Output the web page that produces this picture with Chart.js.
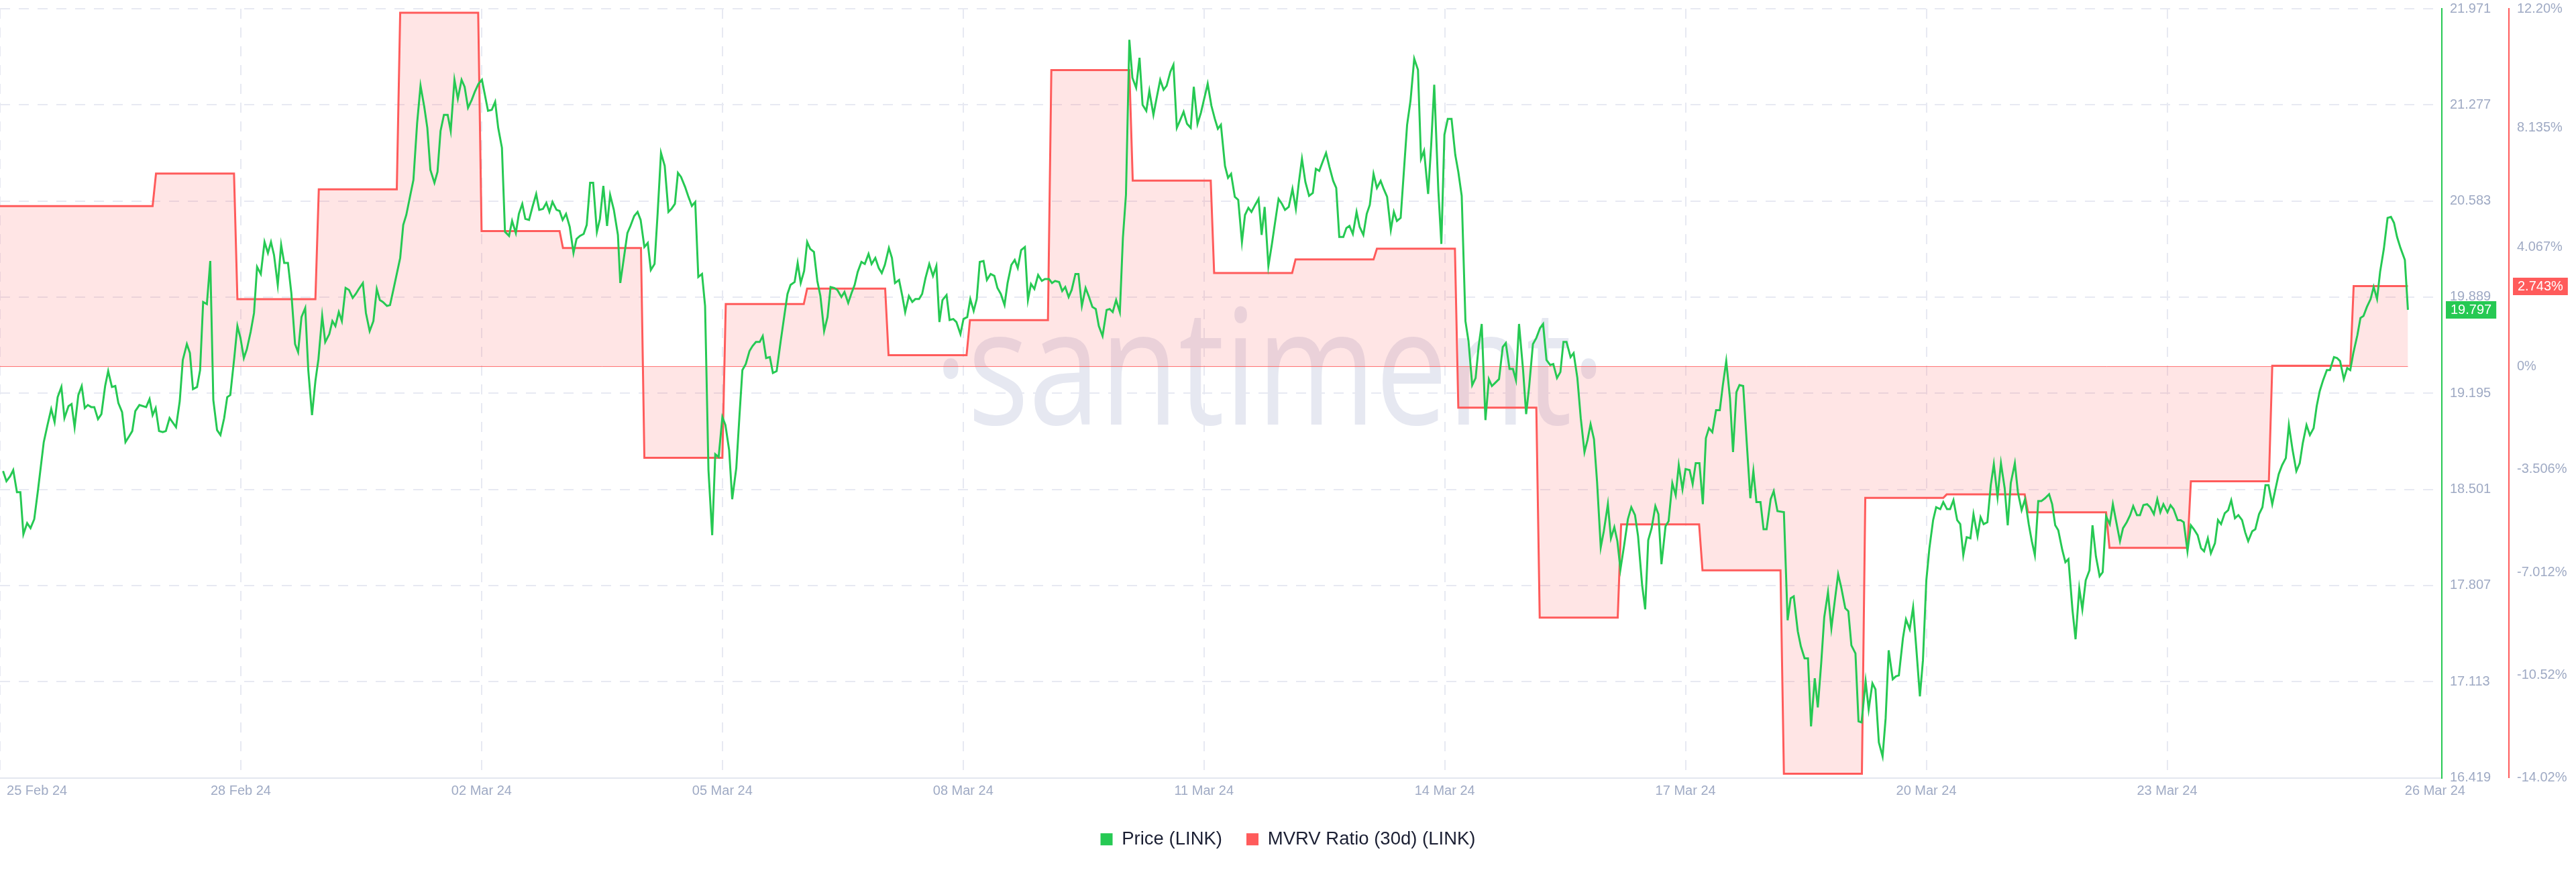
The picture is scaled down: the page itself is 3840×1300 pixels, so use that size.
<!DOCTYPE html>
<html>
<head>
<meta charset="utf-8">
<style>
  html, body { margin: 0; padding: 0; background: #ffffff; }
  #wrap { width: 3840px; height: 1300px; }
</style>
<script src="https://cdn.jsdelivr.net/npm/chart.js@4"></script>
</head>
<body>
<div id="wrap"><canvas id="c" width="3840" height="1300"></canvas></div>
<script>
// ---------------- DATA ----------------
// Hours since the chart start (25 Feb 24) of each price reading
const priceHours = [
0.9,1.9,3.0,3.9,5.0,6.0,6.9,8.0,9.0,10.1,
11.2,12.9,14.0,15.1,16.1,17.0,18.1,19.0,20.2,21.1,
22.0,23.1,24.1,25.0,25.9,26.9,27.8,28.9,29.9,31.0,31.9,
33.0,34.0,34.9,36.0,37.0,38.1,39.0,39.9,41.1,43.1,
44.1,45.0,45.9,46.9,48.0,48.9,50.0,51.9,53.0,53.9,
55.1,56.0,56.9,58.1,59.0,59.9,61.0,62.0,62.9,64.0,
65.0,66.1,67.0,67.9,69.1,70.0,70.9,71.9,72.8,73.9,
74.9,75.8,76.9,78.0,79.0,79.9,80.8,81.9,82.9,83.8,
84.9,85.9,87.0,87.9,88.9,90.0,90.9,92.0,93.0,93.9,
95.0,95.9,97.1,98.0,98.9,99.9,100.8,101.9,102.9,104.0,
104.9,105.8,107.0,107.9,109.0,110.1,111.1,112.0,112.9,114.1,115.0,
116.1,118.0,118.9,119.8,121.0,121.9,123.0,124.0,125.1,126.0,
126.9,128.1,129.0,129.9,130.9,132.0,132.9,134.0,135.0,136.1,
137.0,138.0,139.1,140.0,141.1,142.1,
143.9,145.0,146.0,146.9,148.0,148.9,150.1,151.0,152.1,153.0,
154.0,154.9,156.0,157.0,158.1,159.0,160.1,161.1,162.0,162.9,
164.1,165.0,165.9,166.9,168.0,169.1,170.0,171.0,172.1,173.0,
174.0,174.9,176.0,176.9,177.9,179.0,179.9,181.0,182.2,182.9,
184.0,185.0,185.9,187.0,188.0,188.9,190.0,191.0,191.9,193.0,
193.9,194.9,196.0,197.1,198.0,199.0,199.9,200.8,202.0,202.9,
204.0,205.0,205.9,207.0,207.9,208.9,210.0,210.9,211.9,213.0,
213.9,215.0,215.9,217.1,218.0,218.9,219.9,221.0,221.9,222.9,
224.0,224.9,225.9,227.0,227.9,229.0,230.2,231.3,232.2,233.1,
234.3,235.2,236.1,237.1,238.0,238.9,240.0,241.0,241.9,243.0,
244.0,244.9,246.0,246.9,248.1,249.0,250.1,251.1,252.0,252.9,
254.0,255.0,256.1,257.0,258.1,259.1,260.0,260.9,262.1,263.0,
263.9,265.1,266.0,266.9,268.0,269.0,269.9,271.0,271.9,272.9,
274.0,275.1,276.1,277.0,277.9,279.1,280.0,281.1,282.0,283.2,
284.1,285.2,286.1,287.1,288.0,
288.9,290.0,291.0,292.1,293.2,294.1,295.1,296.2,297.1,298.2,
299.2,300.1,301.1,302.2,303.1,304.0,305.0,306.1,307.2,308.1,
309.3,310.2,311.1,312.3,313.2,314.1,315.1,316.0,317.1,318.0,
319.0,320.1,321.0,322.1,323.1,324.0,325.1,326.3,327.2,328.1,
329.1,330.2,331.1,332.0,333.0,333.9,335.0,336.0,336.9,338.0,
338.9,340.1,341.0,342.1,343.1,344.0,345.1,346.0,347.0,347.9,
349.0,350.0,351.1,352.0,353.1,354.1,355.2,356.1,357.2,358.2,
359.1,360.0,361.2,362.1,363.0,364.1,365.1,366.2,367.1,368.1,
369.0,370.1,371.1,372.0,372.9,374.0,375.0,375.9,377.0,378.0,
378.9,380.0,381.1,382.1,383.0,383.9,384.9,386.0,387.1,388.0,
389.0,390.1,391.0,392.0,393.1,394.0,394.9,396.1,397.0,397.9,
398.9,400.0,400.9,402.0,403.0,403.9,405.0,406.0,407.1,408.0,
409.0,410.1,411.0,411.9,413.0,414.0,414.9,415.9,417.0,418.1,
419.0,419.9,421.1,422.0,422.9,424.1,425.0,425.9,426.9,428.0,
429.1,430.0,431.0,
432.1,433.0,434.1,435.1,436.0,436.9,438.0,439.0,439.9,440.8,
442.0,443.1,444.0,445.1,446.1,447.0,447.9,449.1,450.0,450.9,
452.0,453.0,454.1,455.0,456.0,457.1,458.0,459.1,460.1,461.0,
461.9,463.1,464.0,465.1,466.1,467.2,468.1,469.0,470.0,470.9,
472.0,472.9,474.1,475.0,476.0,476.9,477.8,478.9,480.0,481.0,
482.1,483.0,484.2,485.1,486.0,487.0,488.1,489.0,489.9,491.1,
492.0,493.1,494.1,495.0,496.1,497.0,498.2,499.1,500.0,501.1,
502.1,503.0,503.9,504.9,506.0,507.1,508.0,509.0,510.1,511.0,
512.0,512.9,514.0,515.0,516.1,517.0,517.9,519.1,520.0,520.9,
522.1,523.0,524.1,526.0,527.1,528.0,528.9,530.1,531.0,532.1,
533.1,534.0,535.1,536.0,537.0,537.9,539.0,540.0,541.1,542.0,
542.9,544.1,545.0,545.9,547.1,548.0,548.9,550.1,551.0,552.1,
553.0,554.0,555.1,556.0,556.9,558.1,559.0,559.9,561.1,562.0,
563.1,564.1,565.0,566.1,567.0,568.0,568.9,570.0,570.9,572.1,
573.0,
574.1,575.0,576.0,577.1,578.0,578.9,579.9,581.0,581.9,583.1,
584.0,584.9,586.0,587.0,587.9,589.0,590.0,591.1,592.0,592.9,
594.1,595.0,596.1,597.1,598.2,599.1,600.0,601.0,601.9,603.0,
604.2,605.1,606.0,606.9,608.1,609.0,609.9,611.1,612.0,613.1,
614.0,615.0,616.1,617.0,618.0,619.1,620.0,621.0,622.1,623.0,
623.9,625.1,626.0,627.1,628.1,629.0,630.1,631.0,632.0,633.1,
634.0,635.1,636.1,637.0,637.9,639.1,640.0,640.9,642.1,643.0,
643.9,645.0,646.0,646.9,648.0,649.0,649.9,651.0,651.9,653.1,
654.0,654.9,656.0,657.0,657.9,659.0,660.0,661.1,662.0,662.9,
664.1,665.0,666.1,667.1,668.0,668.9,670.0,671.0,671.9,672.9,
674.0,674.9,676.0,677.1,678.1,679.0,680.1,681.1,682.2,683.1,
684.0,685.0,686.1,687.0,688.2,689.1,690.0,691.1,692.1,693.0,
693.9,695.1,696.0,696.9,697.9,699.0,699.9,700.9,701.8,702.9,
704.0,705.0,705.9,706.8,707.8,709.1,710.0
];

// Price (LINK), USD
const priceValues = [
18.633,18.560,18.596,18.640,18.481,18.481,18.177,18.257,18.221,18.286,
18.495,18.842,18.965,19.081,18.987,19.167,19.240,19.016,19.102,19.117,
18.950,19.182,19.247,19.088,19.110,19.095,19.095,19.008,19.044,19.247,19.355,
19.240,19.247,19.124,19.059,18.842,18.885,18.922,19.066,19.110,19.095,
19.153,19.037,19.088,18.922,18.914,18.922,19.016,18.950,19.138,19.435,
19.550,19.485,19.225,19.240,19.362,19.854,19.839,20.150,19.146,18.929,
18.893,19.016,19.167,19.182,19.456,19.680,19.594,19.449,19.514,19.637,
19.774,20.107,20.056,20.287,20.208,20.287,20.193,19.977,20.266,20.136,
20.136,19.919,19.550,19.492,19.745,19.810,19.362,19.037,19.283,19.442,
19.753,19.565,19.622,19.716,19.680,19.781,19.716,19.955,19.941,19.883,
19.912,19.948,19.991,19.774,19.644,19.716,19.948,19.868,19.854,19.825,19.832,
19.955,20.172,20.410,20.482,20.627,20.735,21.147,21.415,21.263,21.111,
20.808,20.714,20.793,21.089,21.205,21.205,21.089,21.458,21.321,21.458,
21.407,21.256,21.313,21.371,21.429,21.458,
21.234,21.241,21.299,21.111,20.967,20.360,20.331,20.439,20.352,20.490,
20.562,20.454,20.446,20.540,20.634,20.519,20.526,20.569,20.504,20.576,
20.519,20.511,20.446,20.490,20.396,20.208,20.309,20.331,20.345,20.410,
20.714,20.714,20.360,20.454,20.692,20.403,20.627,20.519,20.338,19.991,
20.179,20.352,20.403,20.475,20.504,20.446,20.251,20.280,20.085,20.128,
20.490,20.930,20.836,20.504,20.526,20.562,20.786,20.757,20.685,20.620,
20.547,20.576,20.034,20.056,19.825,18.640,18.170,18.755,18.734,19.023,
18.965,18.784,18.430,18.654,19.016,19.362,19.406,19.500,19.536,19.565,
19.565,19.608,19.449,19.456,19.341,19.355,19.572,19.760,19.912,19.977,
19.998,20.136,19.991,20.078,20.287,20.237,20.215,20.005,19.897,19.644,
19.745,19.962,19.955,19.941,19.890,19.926,19.847,19.919,19.977,20.071,
20.143,20.128,20.201,20.128,20.172,20.099,20.063,20.121,20.244,20.172,
19.991,20.013,19.904,19.781,19.897,19.854,19.875,19.875,19.912,20.027,
20.128,20.042,20.114,19.709,19.868,19.904,19.724,19.731,19.709,19.622,
19.731,19.745,19.875,19.789,19.875,
20.143,20.150,20.013,20.056,20.042,19.955,19.912,19.832,19.991,20.121,
20.157,20.099,20.229,20.251,19.868,19.984,19.948,20.049,20.006,20.020,
20.020,19.991,20.006,19.998,19.933,19.962,19.890,19.941,20.056,20.056,
19.825,19.955,19.897,19.818,19.803,19.680,19.608,19.796,19.803,19.781,
19.868,19.781,20.316,20.627,21.747,21.472,21.400,21.617,21.277,21.234,
21.378,21.205,21.321,21.458,21.386,21.415,21.516,21.566,21.111,21.162,
21.227,21.140,21.111,21.407,21.140,21.220,21.335,21.429,21.270,21.176,
21.104,21.133,20.836,20.750,20.779,20.613,20.591,20.287,20.482,20.533,
20.504,20.555,20.598,20.338,20.540,20.114,20.266,20.417,20.598,20.562,
20.519,20.540,20.670,20.526,20.721,20.887,20.721,20.620,20.641,20.815,
20.800,20.873,20.930,20.829,20.728,20.677,20.323,20.323,20.388,20.403,
20.345,20.504,20.396,20.338,20.490,20.555,20.779,20.677,20.728,20.670,
20.613,20.374,20.504,20.439,20.461,20.815,21.133,21.306,21.610,21.530,
20.887,20.945,20.634,20.988,21.422,20.663,20.273,21.061,21.176,21.176,
20.916,20.793,20.620,
19.716,19.572,19.254,19.305,19.536,19.695,19.001,19.297,19.247,19.268,
19.297,19.529,19.557,19.370,19.370,19.290,19.695,19.362,19.044,19.247,
19.550,19.594,19.666,19.695,19.435,19.399,19.406,19.305,19.348,19.565,
19.565,19.456,19.485,19.305,19.016,18.770,18.857,18.972,18.864,18.560,
18.083,18.199,18.394,18.148,18.228,18.127,17.924,18.098,18.286,18.372,
18.315,18.163,17.809,17.635,18.134,18.221,18.380,18.322,17.961,18.235,
18.271,18.546,18.459,18.676,18.502,18.647,18.640,18.539,18.690,18.690,
18.394,18.871,18.943,18.914,19.073,19.073,19.254,19.427,19.160,18.770,
19.203,19.254,19.247,18.857,18.437,18.633,18.409,18.409,18.213,18.213,
18.430,18.488,18.344,18.336,17.556,17.715,17.729,17.476,17.368,17.281,
17.281,16.790,17.137,16.927,17.245,17.578,17.758,17.498,17.715,17.888,
17.794,17.643,17.621,17.375,17.317,16.826,16.819,17.115,16.913,17.101,
17.057,16.674,16.573,16.848,17.339,17.130,17.151,17.158,17.426,17.563,
17.491,17.650,17.368,17.007,17.267,17.845,18.076,18.279,18.372,18.358,
18.409,
18.358,18.358,18.423,18.279,18.250,18.026,18.156,18.148,18.322,18.163,
18.300,18.250,18.264,18.531,18.683,18.445,18.690,18.510,18.242,18.546,
18.690,18.481,18.351,18.430,18.250,18.127,18.026,18.416,18.416,18.437,
18.466,18.394,18.242,18.206,18.062,17.975,17.997,17.628,17.419,17.787,
17.635,17.845,17.917,18.242,18.018,17.874,17.903,18.307,18.250,18.394,
18.279,18.127,18.221,18.264,18.315,18.380,18.315,18.315,18.387,18.394,
18.372,18.322,18.430,18.336,18.394,18.336,18.387,18.358,18.279,18.279,
18.264,18.054,18.242,18.213,18.170,18.076,18.054,18.148,18.040,18.112,
18.279,18.250,18.329,18.351,18.423,18.293,18.315,18.279,18.192,18.127,
18.199,18.213,18.322,18.372,18.531,18.531,18.394,18.510,18.611,18.676,
18.727,18.965,18.784,18.633,18.690,18.835,18.965,18.893,18.943,19.102,
19.211,19.290,19.362,19.362,19.456,19.449,19.427,19.297,19.377,19.362,
19.485,19.615,19.738,19.753,19.818,19.875,19.962,19.875,20.071,20.237,
20.461,20.468,20.425,20.323,20.244,20.157,19.797
];

// MVRV Ratio (30d) (LINK), daily values in %
const mvrvDaily = [
5.47, 5.47, 6.58, 2.30, 6.04, 12.06, 4.62, 4.04, -3.11, 2.13,
2.66, 0.39, 1.58, 10.11, 6.34, 3.19, 3.65, 4.02, -1.40, -8.56,
-5.38, -6.95, -13.88, -4.48, -4.36, -4.97, -6.18, -3.91, 0.03, 2.743
];

// x axis (hours since start)
const xGridHours  = [0, 71, 142, 213, 284, 355, 426, 497, 568, 639];
const xLabelHours = [10.9, 71, 142, 213, 284, 355, 426, 497, 568, 639, 718];
const xTickLabels = ['25 Feb 24', '28 Feb 24', '02 Mar 24', '05 Mar 24', '08 Mar 24', '11 Mar 24',
                     '14 Mar 24', '17 Mar 24', '20 Mar 24', '23 Mar 24', '26 Mar 24'];

// y axes
const priceTicks = [16.419, 17.113, 17.807, 18.501, 19.195, 19.889, 20.583, 21.277, 21.971];
const priceTickLabels = ['16.419', '17.113', '17.807', '18.501', '19.195', '19.889', '20.583', '21.277', '21.971'];
const mvrvTicks = [-14.02, -10.52, -7.012, -3.506, 0, 4.067, 8.135, 12.20];
const mvrvTickLabels = ['-14.02%', '-10.52%', '-7.012%', '-3.506%', '0%', '4.067%', '8.135%', '12.20%'];

// ---------------- BUILD ----------------
const GREEN = '#26C953';
const RED = '#FF5B5B';
const LABEL = '#9FAAC4';
const GRID = '#E7E9F2';
const FONT = '"Liberation Sans", Arial, Helvetica, sans-serif';
const lastHour = priceHours[priceHours.length - 1];

const priceData = priceHours.map((h, i) => ({ x: h, y: priceValues[i] }));
// each daily MVRV value holds from 2h before the day boundary until 21h after it
const mvrvData = [];
mvrvDaily.forEach((v, d) => {
  mvrvData.push({ x: Math.max(0, 24 * d - 2), y: v });
  mvrvData.push({ x: Math.min(lastHour, 24 * d + 21), y: v });
});
const zeroData = [{ x: 0, y: 0 }, { x: lastHour, y: 0 }];

const watermark = {
  id: 'watermark',
  beforeDatasetsDraw(chart) {
    const { ctx, chartArea: a } = chart;
    ctx.save();
    ctx.font = '400 240px "Open Sans", "Noto Sans", sans-serif';
    ctx.fillStyle = '#E6E8F1';
    ctx.textBaseline = 'alphabetic';
    const t = '\u00B7santiment\u00B7';
    const w = ctx.measureText(t).width;
    const target = a.width * 0.275;
    ctx.translate(a.left + a.width * 0.3825, a.top + a.height * 0.5406);
    ctx.scale(target / w, 1);
    ctx.fillText(t, 0, 0);
    ctx.restore();
  }
};

const badges = {
  id: 'badges',
  afterDraw(chart) {
    const ctx = chart.ctx;
    const lastP = priceValues[priceValues.length - 1];
    const lastM = mvrvDaily[mvrvDaily.length - 1];
    const items = [
      [chart.scales.y, lastP, lastP.toFixed(3), GREEN],
      [chart.scales.y2, lastM, lastM.toFixed(3) + '%', RED]
    ];
    ctx.save();
    ctx.font = '20px ' + FONT;
    ctx.textBaseline = 'middle';
    ctx.textAlign = 'left';
    for (const [s, v, txt, col] of items) {
      const y = s.getPixelForValue(v);
      const w = ctx.measureText(txt).width + 14;
      ctx.fillStyle = col;
      ctx.fillRect(s.left + 6, Math.round(y - 13), w, 26);
      ctx.fillStyle = '#FFFFFF';
      ctx.fillText(txt, s.left + 13, y + 1);
    }
    ctx.restore();
  }
};

Chart.defaults.font.family = FONT;

new Chart(document.getElementById('c'), {
  type: 'line',
  data: {
    datasets: [
      {
        label: 'Price (LINK)',
        data: priceData,
        borderColor: GREEN,
        backgroundColor: GREEN,
        borderWidth: 3,
        pointRadius: 0,
        tension: 0,
        fill: false,
        yAxisID: 'y'
      },
      {
        label: 'MVRV Ratio (30d) (LINK)',
        data: mvrvData,
        borderColor: RED,
        backgroundColor: 'rgba(255, 91, 91, 0.16)',
        borderWidth: 3,
        pointRadius: 0,
        tension: 0,
        fill: 'origin',
        yAxisID: 'y2'
      },
      {
        label: 'zero',
        data: zeroData,
        borderColor: 'rgba(255, 91, 91, 0.85)',
        borderWidth: 1,
        pointRadius: 0,
        fill: false,
        yAxisID: 'y2'
      }
    ]
  },
  options: {
    responsive: false,
    animation: false,
    layout: { padding: { top: 13, bottom: 25, left: 0, right: 0 } },
    plugins: {
      legend: {
        position: 'bottom',
        labels: {
          boxWidth: 18,
          boxHeight: 18,
          padding: 36,
          color: '#1B1F33',
          font: { size: 27.5, family: FONT },
          generateLabels: (chart) => chart.data.datasets.slice(0, 2).map((ds, i) => ({
            text: ds.label,
            fillStyle: ds.borderColor,
            strokeStyle: ds.borderColor,
            lineWidth: 0,
            hidden: false,
            datasetIndex: i,
            fontColor: '#1B1F33'
          }))
        }
      },
      tooltip: { enabled: false }
    },
    scales: {
      x: {
        type: 'linear',
        position: 'bottom',
        min: 0,
        max: 720,
        grid: { color: GRID, lineWidth: 2, drawTicks: false },
        border: { display: true, color: '#E3E7EF', width: 2, dash: [15, 13] },
        ticks: { display: false },
        afterBuildTicks: (s) => { s.ticks = xGridHours.map(v => ({ value: v })); },
        afterFit: (s) => { s.height = 0; s.paddingLeft = 0; s.paddingRight = 0; }
      },
      xl: {
        type: 'linear',
        position: 'bottom',
        min: 0,
        max: 720,
        grid: { display: false, drawTicks: false },
        border: { display: false },
        ticks: {
          color: LABEL,
          font: { size: 20 },
          padding: 8,
          autoSkip: false,
          maxRotation: 0,
          minRotation: 0,
          callback: (v, i) => xTickLabels[i]
        },
        afterBuildTicks: (s) => { s.ticks = xLabelHours.map(v => ({ value: v })); },
        afterFit: (s) => { s.height = 42; s.paddingLeft = 0; s.paddingRight = 0; }
      },
      y: {
        type: 'linear',
        position: 'right',
        min: 16.419,
        max: 21.971,
        grid: { color: GRID, lineWidth: 2, drawTicks: false },
        border: { display: true, color: GREEN, width: 2, dash: [15, 13] },
        ticks: {
          color: LABEL,
          font: { size: 20 },
          padding: 12,
          callback: (v, i) => priceTickLabels[i]
        },
        afterBuildTicks: (s) => { s.ticks = priceTicks.map(v => ({ value: v })); },
        afterFit: (s) => { s.width = 100; s.paddingTop = 0; s.paddingBottom = 0; }
      },
      y2: {
        type: 'linear',
        position: 'right',
        min: -14.02,
        max: 12.20,
        grid: { display: false, drawTicks: false },
        border: { display: true, color: RED, width: 2 },
        ticks: {
          color: LABEL,
          font: { size: 20 },
          padding: 12,
          callback: (v, i) => mvrvTickLabels[i]
        },
        afterBuildTicks: (s) => { s.ticks = mvrvTicks.map(v => ({ value: v })); },
        afterFit: (s) => { s.width = 100; s.paddingTop = 0; s.paddingBottom = 0; }
      }
    }
  },
  plugins: [watermark, badges]
});
</script>
</body>
</html>
